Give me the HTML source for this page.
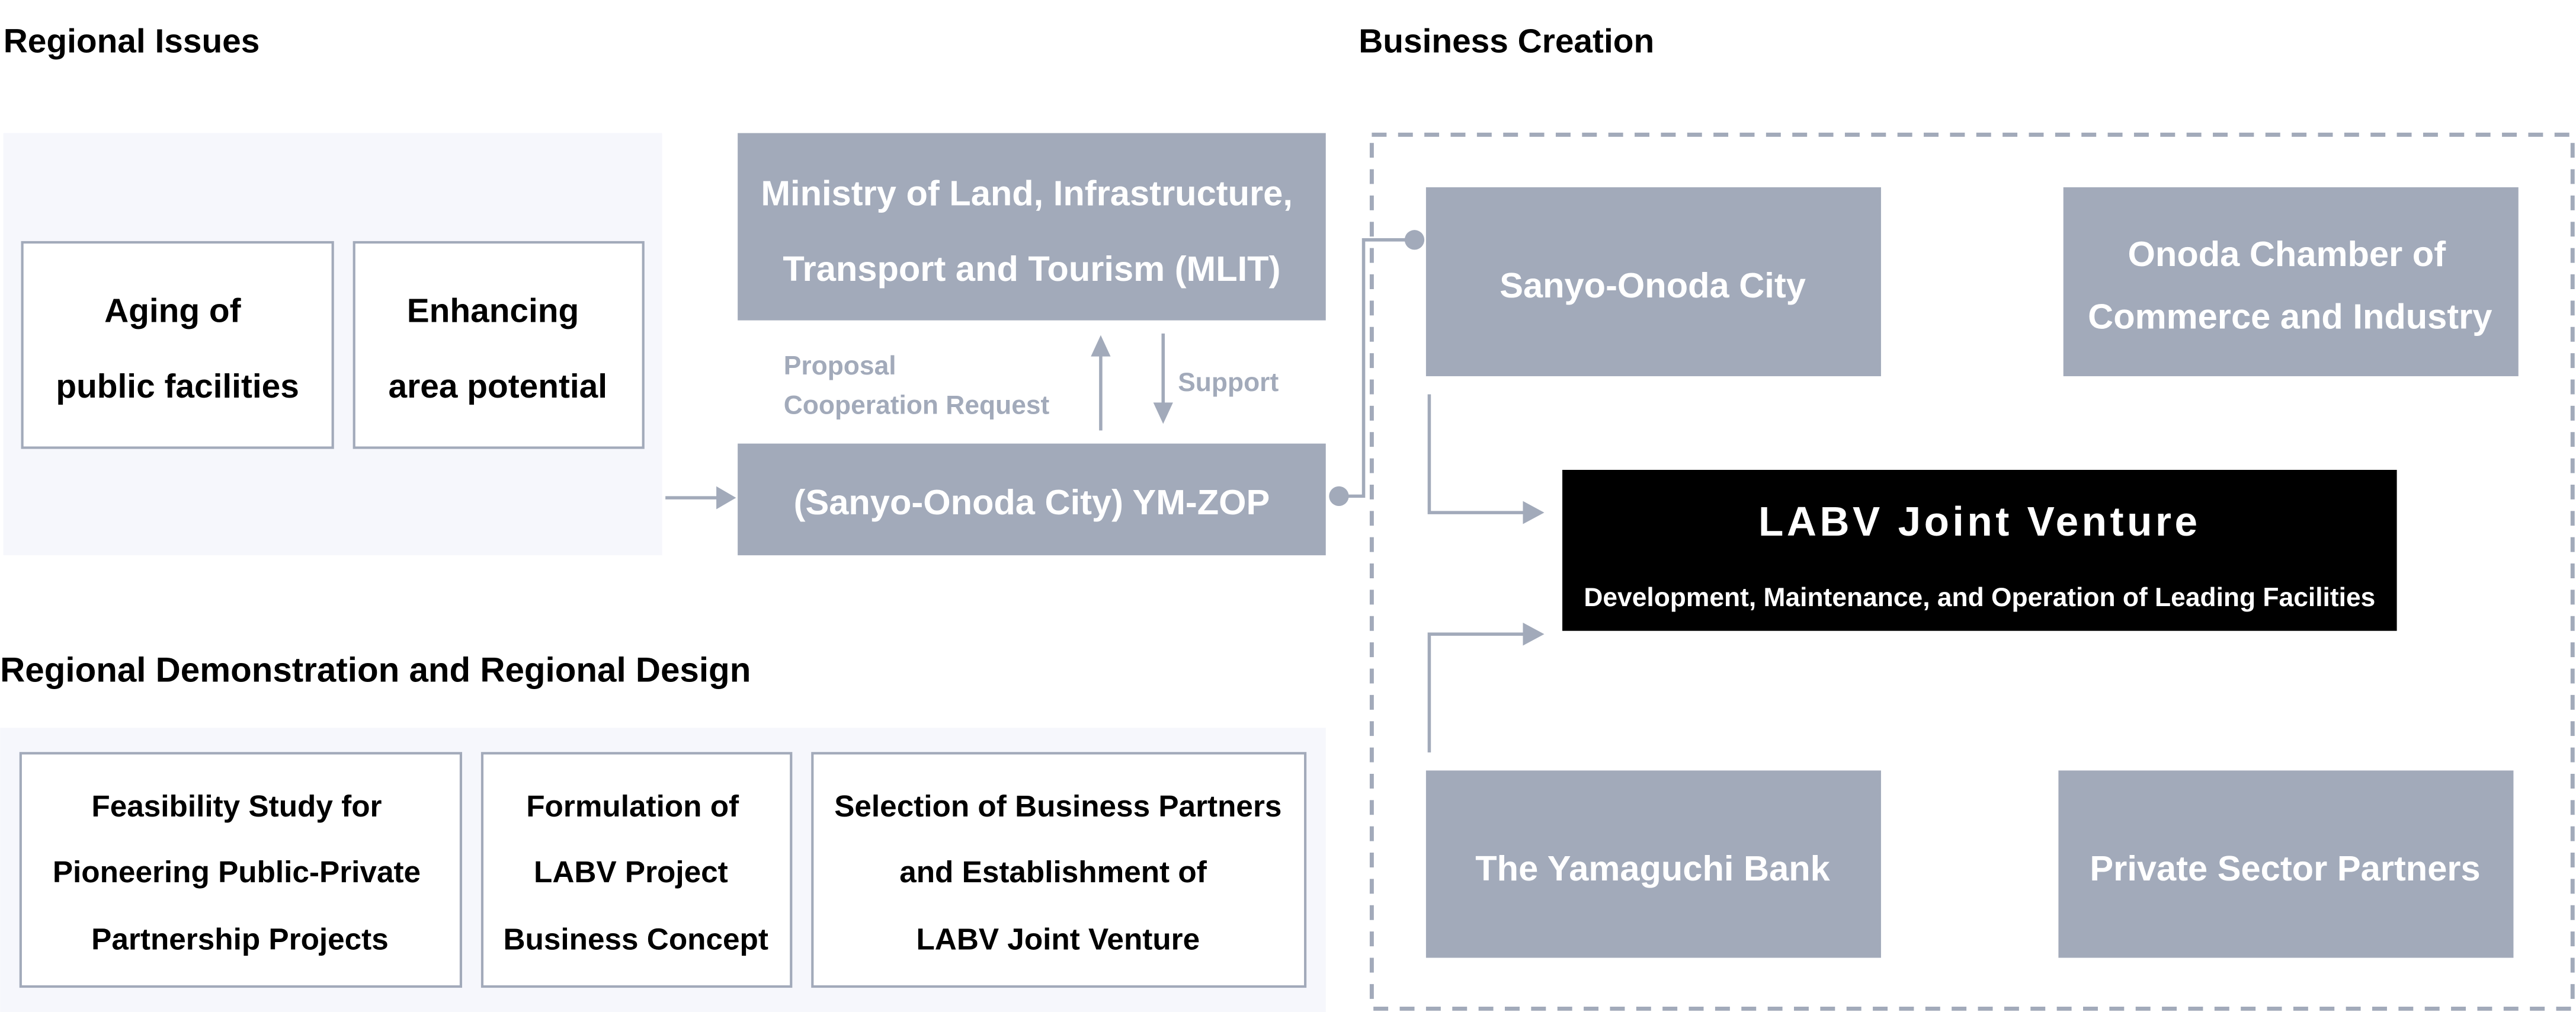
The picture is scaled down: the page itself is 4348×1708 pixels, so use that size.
<!DOCTYPE html>
<html><head><meta charset="utf-8"><style>
html,body{margin:0;padding:0;background:#fff;}
svg{display:block;}
text{font-family:"Liberation Sans","DejaVu Sans",sans-serif;}
</style></head><body>
<svg width="4348" height="1708" viewBox="0 0 1568 616" xmlns="http://www.w3.org/2000/svg">
<rect width="1568" height="616" fill="#fff"/>
<g font-weight="bold" font-size="20" fill="#000">
<text x="2" y="32" font-size="20.5">Regional Issues</text>
<text x="827" y="32" font-size="20.5">Business Creation</text>
<text x="0" y="415" font-size="21" textLength="457" lengthAdjust="spacingAndGlyphs">Regional Demonstration and Regional Design</text>
</g>
<rect x="2" y="81" width="401" height="257" fill="#f6f7fc"/>
<rect x="13.5" y="147.5" width="189" height="125" fill="#fff" stroke="#a2aaba" stroke-width="1.5"/>
<rect x="215.5" y="147.5" width="176" height="125" fill="#fff" stroke="#a2aaba" stroke-width="1.5"/>
<g font-size="20.5" font-weight="bold" fill="#000" text-anchor="middle">
<text x="105" y="196">Aging of</text>
<text x="108" y="242">public facilities</text>
<text x="300" y="196">Enhancing</text>
<text x="303" y="242">area potential</text>
</g>
<line x1="405" y1="303" x2="438" y2="303" stroke="#a2aaba" stroke-width="2"/>
<polygon points="436,296 448,303 436,310" fill="#a2aaba"/>
<rect x="449" y="81" width="358" height="114" fill="#a2aaba"/>
<rect x="449" y="270" width="358" height="68" fill="#a2aaba"/>
<g font-size="21.5" font-weight="bold" fill="#fff" text-anchor="middle">
<text x="625" y="125">Ministry of Land, Infrastructure,</text>
<text x="628" y="171">Transport and Tourism (MLIT)</text>
<text x="628" y="313">(Sanyo-Onoda City) YM-ZOP</text>
</g>
<line x1="670" y1="262" x2="670" y2="212" stroke="#a2aaba" stroke-width="2"/>
<polygon points="664,217 670,204 676,217" fill="#a2aaba"/>
<line x1="708" y1="203" x2="708" y2="250" stroke="#a2aaba" stroke-width="2"/>
<polygon points="702,245 708,258 714,245" fill="#a2aaba"/>
<g font-size="16" font-weight="bold" fill="#a2aaba">
<text x="477" y="228">Proposal</text>
<text x="477" y="252">Cooperation Request</text>
<text x="717" y="238">Support</text>
</g>
<rect x="835" y="82" width="731" height="532" fill="none" stroke="#a2aaba" stroke-width="2.5" stroke-dasharray="9,7"/>
<polyline points="815,302 830,302 830,146 861,146" fill="none" stroke="#a2aaba" stroke-width="2"/>
<circle cx="815" cy="302" r="6" fill="#a2aaba"/>
<circle cx="861" cy="146" r="6" fill="#a2aaba"/>
<rect x="868" y="114" width="277" height="115" fill="#a2aaba"/>
<rect x="1256" y="114" width="277" height="115" fill="#a2aaba"/>
<rect x="868" y="469" width="277" height="114" fill="#a2aaba"/>
<rect x="1253" y="469" width="277" height="114" fill="#a2aaba"/>
<g font-size="21.5" font-weight="bold" fill="#fff" text-anchor="middle">
<text x="1006" y="181">Sanyo-Onoda City</text>
<text x="1392" y="162">Onoda Chamber of</text>
<text x="1394" y="200">Commerce and Industry</text>
<text x="1006" y="536">The Yamaguchi Bank</text>
<text x="1391" y="536">Private Sector Partners</text>
</g>
<rect x="951" y="286" width="508" height="98" fill="#000"/>
<text x="1205" y="326" font-size="25" font-weight="bold" fill="#fff" text-anchor="middle" letter-spacing="2">LABV Joint Venture</text>
<text x="1205" y="369" font-size="16" font-weight="bold" fill="#fff" text-anchor="middle">Development, Maintenance, and Operation of Leading Facilities</text>
<polyline points="870,240 870,312 930,312" fill="none" stroke="#a2aaba" stroke-width="2"/>
<polygon points="927,305 940,312 927,319" fill="#a2aaba"/>
<polyline points="870,458 870,386 930,386" fill="none" stroke="#a2aaba" stroke-width="2"/>
<polygon points="927,379 940,386 927,393" fill="#a2aaba"/>
<rect x="0" y="443" width="807" height="173" fill="#f6f7fc"/>
<rect x="12.5" y="458.5" width="268" height="142" fill="#fff" stroke="#a2aaba" stroke-width="1.5"/>
<rect x="293.5" y="458.5" width="188" height="142" fill="#fff" stroke="#a2aaba" stroke-width="1.5"/>
<rect x="494.5" y="458.5" width="300" height="142" fill="#fff" stroke="#a2aaba" stroke-width="1.5"/>
<g font-size="18.5" font-weight="bold" fill="#000" text-anchor="middle">
<text x="144" y="497">Feasibility Study for</text>
<text x="144" y="537">Pioneering Public-Private</text>
<text x="146" y="578">Partnership Projects</text>
<text x="385" y="497">Formulation of</text>
<text x="384" y="537">LABV Project</text>
<text x="387" y="578">Business Concept</text>
<text x="644" y="497">Selection of Business Partners</text>
<text x="641" y="537">and Establishment of</text>
<text x="644" y="578">LABV Joint Venture</text>
</g>
</svg>
</body></html>
